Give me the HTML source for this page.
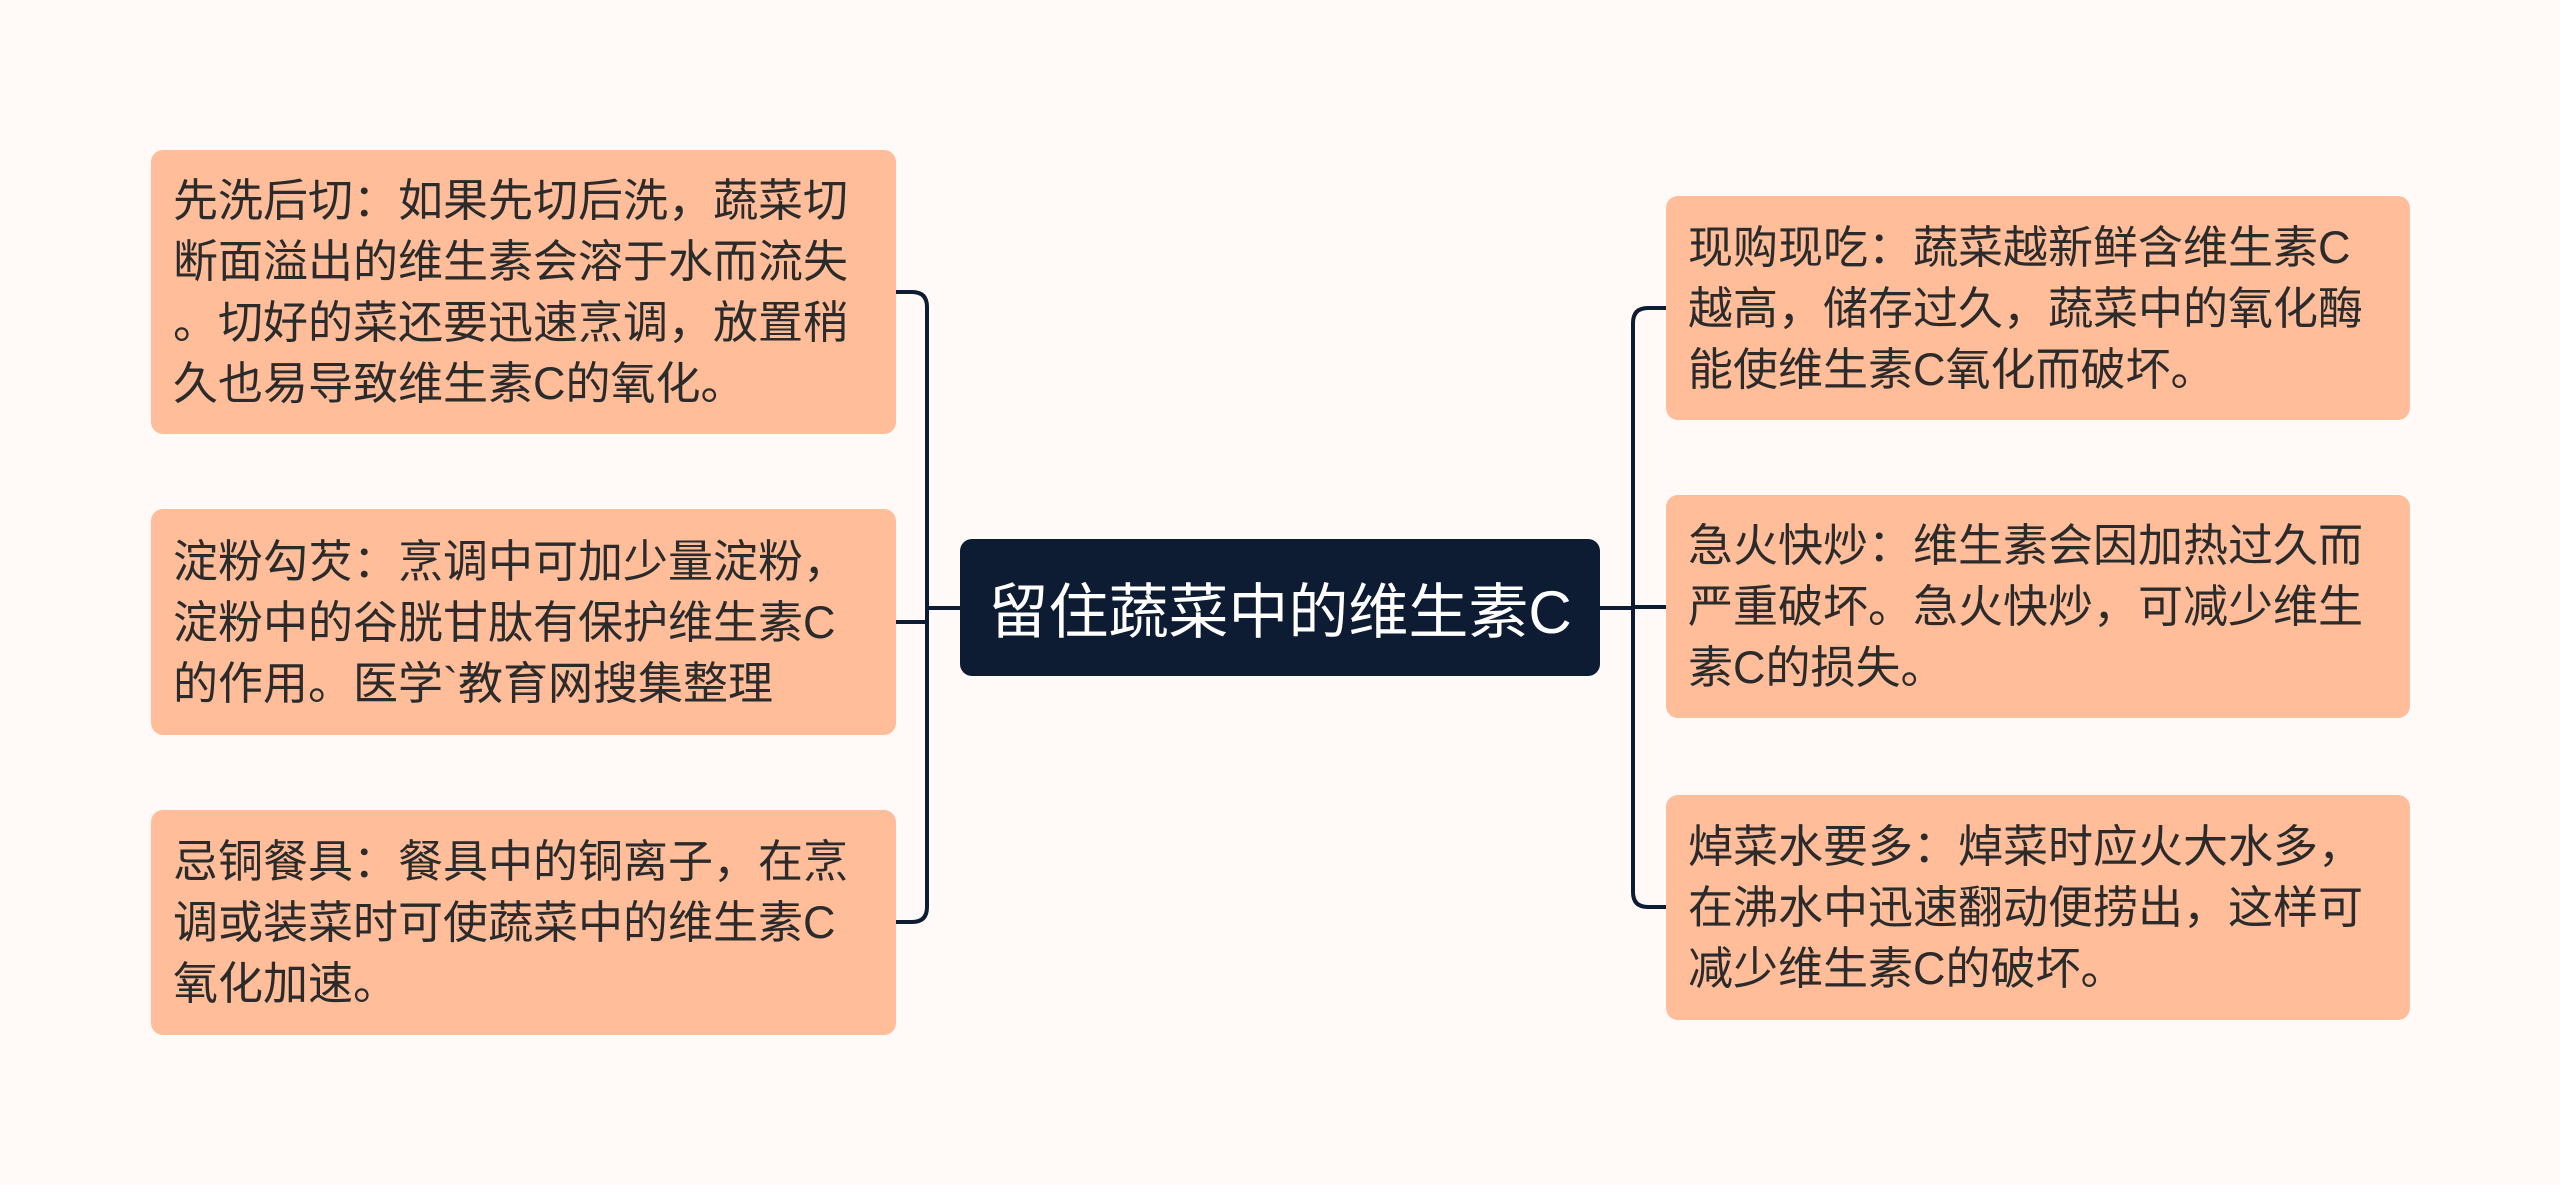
<!DOCTYPE html>
<html><head><meta charset="utf-8"><style>
html,body{margin:0;padding:0;}
body{width:2560px;height:1185px;background:#fffaf8;position:relative;overflow:hidden;font-family:"Liberation Sans","Noto Sans CJK SC",sans-serif;}
.b{position:absolute;background:#ffbd9a;border-radius:12px;box-sizing:border-box;padding:0 22px;color:#2b2b2b;font-size:45px;line-height:61px;display:flex;align-items:center;white-space:nowrap;}
.c{position:absolute;left:960px;top:539px;width:640px;height:137px;background:#0d1c33;border-radius:12px;color:#fff;font-size:60px;display:flex;align-items:center;justify-content:center;}
svg{position:absolute;left:0;top:0;}
</style></head><body>
<svg width="2560" height="1185"><g fill="none" stroke="#0d1c33" stroke-width="4">
<path d="M960 608 H927"/>
<path d="M895 292 H912 Q927 292 927 307 V907 Q927 922 912 922 H895"/>
<path d="M895 622 H927"/>
<path d="M1600 608 H1633"/>
<path d="M1666 308 H1648 Q1633 308 1633 323 V892 Q1633 907 1648 907 H1666"/>
<path d="M1633 607 H1666"/>
</g></svg>
<div class="b" style="left:151px;top:150px;width:745px;height:284px;"><div>先洗后切：如果先切后洗，蔬菜切<br>断面溢出的维生素会溶于水而流失<br>。切好的菜还要迅速烹调，放置稍<br>久也易导致维生素C的氧化。</div></div>
<div class="b" style="left:151px;top:509px;width:745px;height:226px;"><div>淀粉勾芡：烹调中可加少量淀粉，<br>淀粉中的谷胱甘肽有保护维生素C<br>的作用。医学`教育网搜集整理</div></div>
<div class="b" style="left:151px;top:810px;width:745px;height:225px;"><div>忌铜餐具：餐具中的铜离子，在烹<br>调或装菜时可使蔬菜中的维生素C<br>氧化加速。</div></div>
<div class="c">留住蔬菜中的维生素C</div>
<div class="b" style="left:1666px;top:196px;width:744px;height:224px;"><div>现购现吃：蔬菜越新鲜含维生素C<br>越高，储存过久，蔬菜中的氧化酶<br>能使维生素C氧化而破坏。</div></div>
<div class="b" style="left:1666px;top:495px;width:744px;height:223px;"><div>急火快炒：维生素会因加热过久而<br>严重破坏。急火快炒，可减少维生<br>素C的损失。</div></div>
<div class="b" style="left:1666px;top:795px;width:744px;height:225px;"><div>焯菜水要多：焯菜时应火大水多，<br>在沸水中迅速翻动便捞出，这样可<br>减少维生素C的破坏。</div></div>
</body></html>
